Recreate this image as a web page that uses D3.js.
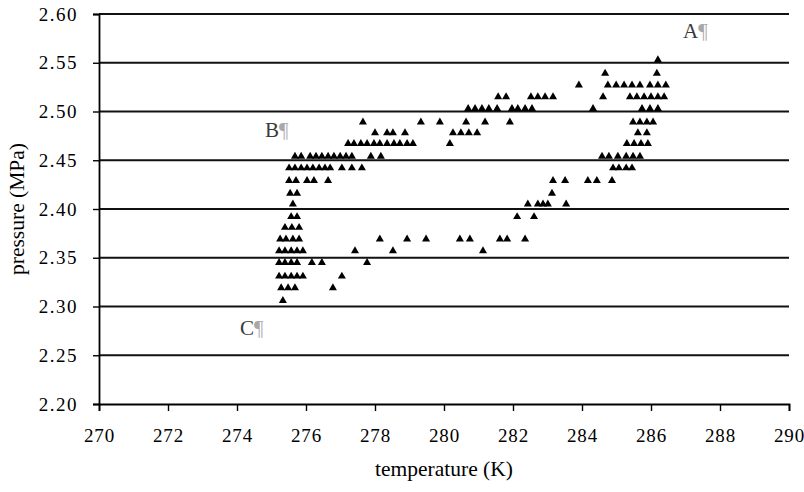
<!DOCTYPE html>
<html>
<head>
<meta charset="utf-8">
<script src="https://cdn.jsdelivr.net/npm/d3@7"></script>
<style>
  body { margin: 0; background: #fff; }
  text { font-family: "Liberation Serif", "Times New Roman", serif; }
</style>
</head>
<body>
<div id="chart"></div>
<script>
// tick values
let xTicks = [270, 272, 274, 276, 278, 280, 282, 284, 286, 288, 290]
let yTicks = [2.20, 2.25, 2.30, 2.35, 2.40, 2.45, 2.50, 2.55, 2.60]

// measured points, grouped by pressure reading (MPa) -> temperatures (K)
let pressureRows = [2.553, 2.539, 2.527, 2.515, 2.503, 2.489, 2.478, 2.467, 2.454, 2.442,
  2.429, 2.416, 2.405, 2.392, 2.381, 2.369, 2.357, 2.345, 2.331, 2.319, 2.306]
let temperatureRows = [
  [286.20],
  [284.67, 286.17],
  [283.91, 284.75, 284.99, 285.22, 285.45, 285.68, 285.97, 286.20, 286.43],
  [281.57, 281.80, 282.52, 282.72, 282.93, 283.16, 284.61, 285.39, 285.59, 285.80, 286.00, 286.20, 286.38],
  [280.70, 280.90, 281.10, 281.30, 281.54, 281.97, 282.14, 282.35, 282.55, 284.32, 285.74, 285.97, 286.20],
  [277.65, 279.33, 279.88, 280.64, 281.19, 281.91, 285.48, 285.68, 285.88, 286.06],
  [278.00, 278.35, 278.52, 278.87, 280.26, 280.49, 280.72, 280.96, 285.62, 285.88],
  [277.22, 277.39, 277.59, 277.77, 277.97, 278.14, 278.35, 278.55, 278.72, 278.93, 279.10, 280.17,
    285.30, 285.51, 285.71, 285.91],
  [275.68, 275.86, 276.12, 276.29, 276.46, 276.64, 276.81, 276.99, 277.16, 277.33, 277.88, 278.17,
    284.58, 284.78, 285.04, 285.28, 285.48, 285.68],
  [275.51, 275.68, 275.86, 276.03, 276.20, 276.38, 276.55, 276.70, 277.04, 277.33, 277.62,
    284.90, 285.07, 285.28, 285.45],
  [275.51, 275.71, 276.03, 276.23, 276.64, 283.16, 283.51, 284.17, 284.43, 284.87],
  [275.54, 275.74, 283.13],
  [275.62, 282.43, 282.72, 282.87, 283.01, 283.54],
  [275.57, 275.74, 282.12, 282.61],
  [275.39, 275.59, 275.80],
  [275.25, 275.42, 275.62, 275.80, 278.14, 278.93, 279.48, 280.46, 280.75, 281.62, 281.83, 282.35],
  [275.22, 275.39, 275.57, 275.74, 275.91, 277.42, 278.52, 281.13],
  [275.22, 275.39, 275.57, 275.74, 276.17, 276.46, 277.77],
  [275.22, 275.39, 275.57, 275.74, 275.91, 277.04],
  [275.28, 275.48, 275.68, 276.78],
  [275.33]
]

// point annotations
let noteText = ["A", "B", "C"]
let noteTemp = [286.93, 274.81, 274.09]
let notePress = [2.575, 2.474, 2.271]

let margin = {top: 14, right: 15, bottom: 88, left: 99},
    width = 804 - margin.left - margin.right,
    height = 492 - margin.top - margin.bottom

let svg = d3.select("#chart")
  .append("svg")
    .attr("width", 804)
    .attr("height", 492)
  .append("g")
    .attr("transform", "translate(" + margin.left + "," + margin.top + ")")

let x = d3.scaleLinear().domain([270, 290]).range([0, width])
let y = d3.scaleLinear().domain([2.20, 2.60]).range([height, 0])

// horizontal gridlines
svg.append("g")
  .selectAll("line")
  .data(yTicks.slice(1))
  .enter()
  .append("line")
    .attr("x1", 0)
    .attr("x2", width)
    .attr("y1", d => y(d))
    .attr("y2", d => y(d))
    .style("stroke", "#111")
    .style("stroke-width", 1.8)

// x axis
let xAxis = svg.append("g")
  .attr("transform", "translate(0," + height + ")")
  .call(d3.axisBottom(x).tickValues(xTicks).tickFormat(d3.format("d")).tickSize(7).tickPadding(18))
xAxis.select(".domain").style("stroke", "#000").style("stroke-width", 1.8)
xAxis.selectAll(".tick line").style("stroke", "#000").style("stroke-width", 1.4)
xAxis.selectAll("text").style("font-size", "19px").style("letter-spacing", "0.8px").style("fill", "#000")

// y axis
let yAxis = svg.append("g")
  .call(d3.axisLeft(y).tickValues(yTicks).tickFormat(d3.format(".2f")).tickSize(6).tickPadding(15))
yAxis.select(".domain").style("stroke", "#000").style("stroke-width", 1.8)
yAxis.selectAll(".tick line").style("stroke", "#000").style("stroke-width", 1.4)
yAxis.selectAll("text").style("font-size", "19px").style("letter-spacing", "1.5px").style("fill", "#000")

// axis titles
svg.append("text")
  .attr("x", width / 2)
  .attr("y", height + 72)
  .attr("text-anchor", "middle")
  .style("font-size", "21.5px")
  .text("temperature (K)")

svg.append("text")
  .attr("transform", "translate(" + (-75) + "," + (height / 2) + ") rotate(-90)")
  .attr("text-anchor", "middle")
  .style("font-size", "21.5px")
  .text("pressure (MPa)")

// points
let points = []
pressureRows.forEach((p, i) => temperatureRows[i].forEach(t => points.push({t: t, p: p})))

svg.append("g")
  .selectAll("path")
  .data(points)
  .enter()
  .append("path")
    .attr("d", d3.symbol().type(d3.symbolTriangle).size(28))
    .attr("transform", d => "translate(" + x(d.t) + "," + y(d.p) + ")")
    .style("fill", "#000")

// A, B, C labels
let notes = svg.append("g")
  .selectAll("text")
  .data(noteText)
  .enter()
  .append("text")
    .attr("x", (d, i) => x(noteTemp[i]))
    .attr("y", (d, i) => y(notePress[i]))
    .style("font-size", "21px")
    .style("fill", "#3a3a3a")
notes.append("tspan").text(d => d)
notes.append("tspan").style("fill", "#a8a8a8").text("\u00b6")
</script>
</body>
</html>
